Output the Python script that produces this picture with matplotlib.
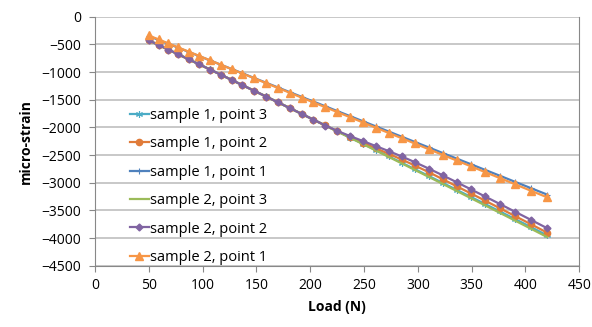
import matplotlib.pyplot as plt

# Load steps (N)
load = [50, 59, 68, 77, 87, 97, 107, 117, 127, 137, 148, 159, 170, 181, 192, 203, 214,
        225, 237, 249, 261, 273, 285, 297, 310, 323, 336, 349, 362, 376, 390, 405, 420]

# micro-strain readings per sample / point
s1_p3 = [-426, -509, -592, -675, -768, -861, -954, -1047, -1141, -1235, -1338, -1441,
         -1545, -1650, -1754, -1859, -1964, -2069, -2185, -2298, -2411, -2525, -2639,
         -2754, -2878, -3003, -3129, -3255, -3381, -3517, -3654, -3801, -3951]
s1_p2 = [-428, -511, -594, -677, -770, -863, -956, -1049, -1143, -1237, -1340, -1443,
         -1547, -1652, -1756, -1861, -1966, -2071, -2178, -2278, -2379, -2480, -2581,
         -2688, -2809, -2936, -3064, -3192, -3320, -3460, -3600, -3750, -3901]
s1_p1 = [-350, -420, -489, -559, -636, -714, -791, -869, -946, -1023, -1109, -1194,
         -1279, -1364, -1449, -1534, -1619, -1705, -1797, -1890, -1983, -2076, -2169,
         -2262, -2362, -2463, -2564, -2664, -2765, -2873, -2982, -3098, -3214]
s2_p3 = [-430, -513, -596, -679, -772, -865, -958, -1051, -1145, -1239, -1342, -1445,
         -1549, -1654, -1758, -1863, -1968, -2073, -2188, -2303, -2419, -2535, -2651,
         -2768, -2894, -3021, -3149, -3277, -3405, -3543, -3682, -3831, -3981]
s2_p2 = [-429, -512, -595, -678, -771, -864, -957, -1050, -1144, -1238, -1341, -1444,
         -1548, -1653, -1757, -1862, -1967, -2063, -2158, -2248, -2339, -2430, -2526,
         -2628, -2744, -2866, -2991, -3117, -3245, -3383, -3522, -3671, -3821]
s2_p1 = [-340, -411, -482, -553, -632, -711, -790, -869, -948, -1027, -1114, -1201,
         -1288, -1375, -1462, -1549, -1636, -1723, -1817, -1912, -2007, -2102, -2196,
         -2291, -2394, -2497, -2599, -2702, -2805, -2915, -3026, -3145, -3263]

labels = ['sample 1, point 3', 'sample 1, point 2', 'sample 1, point 1',
          'sample 2, point 3', 'sample 2, point 2', 'sample 2, point 1']

plt.rcParams['font.family'] = ['Open Sans', 'DejaVu Sans']

fig = plt.figure(figsize=(5.92, 3.27), dpi=100)
ax = fig.add_axes([0.1605, 0.1875, 0.818, 0.7615])

lw = 1.6
ax.plot(load, s1_p3, color='#4BACC6', lw=lw, marker=(6, 2, 0), ms=5, mew=0.8, label=labels[0])
ax.plot(load, s1_p2, color='#E07B39', lw=lw, marker='o', ms=4.5, label=labels[1])
ax.plot(load, s1_p1, color='#4F81BD', lw=lw, marker='+', ms=5, mew=0.8, label=labels[2])
ax.plot(load, s2_p3, color='#9BBB59', lw=lw, label=labels[3])
ax.plot(load, s2_p2, color='#8064A2', lw=lw, marker='D', ms=3.5, label=labels[4])
ax.plot(load, s2_p1, color='#F79646', lw=lw, marker='^', ms=5.5, label=labels[5])

ax.set_xlim(0, 450)
ax.set_ylim(-4500, 0)
ax.set_xticks(range(0, 451, 50))
ax.set_yticks(range(-4500, 1, 500))
ax.grid(axis='y', color='#BFBFBF', lw=1.2)
ax.set_axisbelow(True)

ax.spines['top'].set_visible(False)
for side in ['left', 'bottom', 'right']:
    ax.spines[side].set_color('#888888')
ax.tick_params(axis='both', colors='#888888', labelcolor='black', labelsize=10,
               length=4, direction='out')
ax.tick_params(axis='y', pad=6)
ax.tick_params(axis='x', pad=5)

ax.set_xlabel('Load (N)', fontsize=10, fontweight='bold', labelpad=5)
ax.set_ylabel('micro-strain', fontsize=10, fontweight='bold', labelpad=6)

ax.legend(loc='upper left', bbox_to_anchor=(0.2196, 0.67), bbox_transform=fig.transFigure,
          frameon=False, fontsize=10.5, borderpad=0, borderaxespad=0,
          handlelength=1.3, handletextpad=0.1, labelspacing=0.92)

fig.savefig('out.png', dpi=100)
